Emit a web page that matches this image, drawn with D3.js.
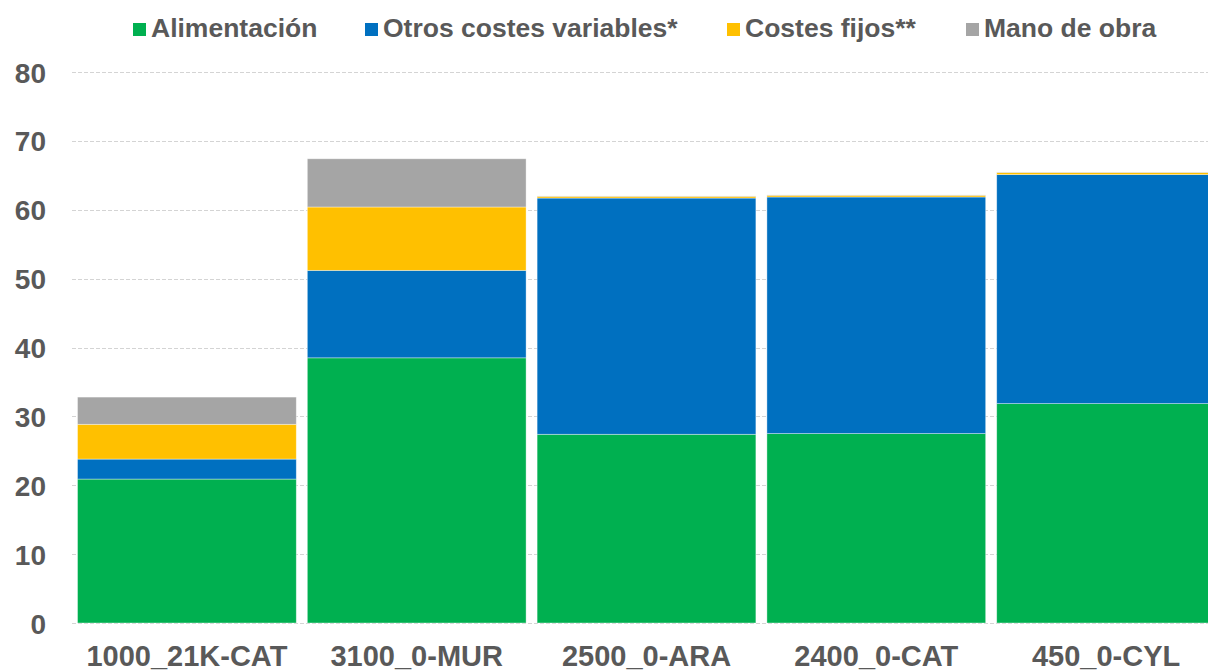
<!DOCTYPE html>
<html>
<head>
<meta charset="utf-8">
<script src="https://cdn.jsdelivr.net/npm/d3@7"></script>
<style>
  body { margin: 0; background: #fff; }
  text { font-family: "Liberation Sans", Arial, sans-serif; font-weight: bold; fill: #595959; }
</style>
</head>
<body>
<div id="chart"></div>
<script>
// categories and series
var categories = ["1000_21K-CAT", "3100_0-MUR", "2500_0-ARA", "2400_0-CAT", "450_0-CYL"];
var seriesNames = ["Alimentación", "Otros costes variables*", "Costes fijos**", "Mano de obra"];
var alimentacion = [20.9, 38.5, 27.4, 27.5, 31.85];
var otrosVariables = [2.9, 12.7, 34.3, 34.35, 33.25];
var costesFijos = [5.05, 9.2, 0.25, 0.25, 0.3];
var manoObra = [3.95, 7.0, 0.05, 0.05, 0.05];
var yTicks = [0, 10, 20, 30, 40, 50, 60, 70, 80];

var colors = ["#00B050", "#0070C0", "#FFC000", "#A5A5A5"];

var width = 1208, height = 672;
var margin = { top: 72, left: 72, bottom: 49 };

var rows = categories.map(function(c, i) {
  return {
    cat: c,
    s0: alimentacion[i],
    s1: otrosVariables[i],
    s2: costesFijos[i],
    s3: manoObra[i]
  };
});

var svg = d3.select("#chart")
  .append("svg")
  .attr("width", width)
  .attr("height", height);

var x = d3.scaleBand()
  .domain(categories)
  .range([margin.left, 1221])
  .paddingInner(0.048)
  .paddingOuter(0.024);

var y = d3.scaleLinear()
  .domain([0, 80])
  .range([height - margin.bottom, margin.top]);

// gridlines
svg.append("g")
  .selectAll("line")
  .data(yTicks)
  .enter()
  .append("line")
  .attr("x1", margin.left)
  .attr("x2", width)
  .attr("y1", function(d) { return Math.round(y(d)) + 0.5; })
  .attr("y2", function(d) { return Math.round(y(d)) + 0.5; })
  .attr("stroke", "#d4d4d4")
  .attr("stroke-width", 1)
  .attr("stroke-dasharray", "4,2");

// y axis labels
var yAxis = d3.axisLeft(y).tickValues(yTicks).tickSize(0).tickPadding(0);
var gy = svg.append("g")
  .attr("transform", "translate(46,0)")
  .call(yAxis);
gy.select(".domain").remove();
gy.selectAll("text")
  .attr("font-size", 28)
  .attr("dy", "0.36em")
  .style("font-family", null);

// stacked bars
var stack = d3.stack().keys(["s0", "s1", "s2", "s3"]);
var layers = stack(rows);

svg.append("g")
  .selectAll("g")
  .data(layers)
  .enter()
  .append("g")
  .attr("fill", function(d, i) { return colors[i]; })
  .selectAll("rect")
  .data(function(d) { return d; })
  .enter()
  .append("rect")
  .attr("x", function(d) { return x(d.data.cat); })
  .attr("width", x.bandwidth())
  .attr("y", function(d) { return y(d[1]); })
  .attr("height", function(d) { return y(d[0]) - y(d[1]); })
  .attr("stroke", "#ffffff")
  .attr("stroke-opacity", 0.5)
  .attr("stroke-width", 0.75);

// x axis labels
var xAxis = d3.axisBottom(x).tickSize(0).tickPadding(0);
var gx = svg.append("g")
  .attr("transform", "translate(0,645)")
  .call(xAxis);
gx.select(".domain").remove();
gx.selectAll("text")
  .attr("font-size", 29)
  .attr("dy", "0.71em")
  .style("font-family", null);

// legend
var legendX = [133, 365, 727, 966];
var legend = svg.append("g")
  .selectAll("g")
  .data(seriesNames)
  .enter()
  .append("g")
  .attr("transform", function(d, i) { return "translate(" + legendX[i] + ",0)"; });

legend.append("rect")
  .attr("x", 0)
  .attr("y", 23)
  .attr("width", 13)
  .attr("height", 13)
  .attr("fill", function(d, i) { return colors[i]; });

legend.append("text")
  .attr("x", 18)
  .attr("y", 37)
  .attr("font-size", 26.5)
  .text(function(d) { return d; });
</script>
</body>
</html>
